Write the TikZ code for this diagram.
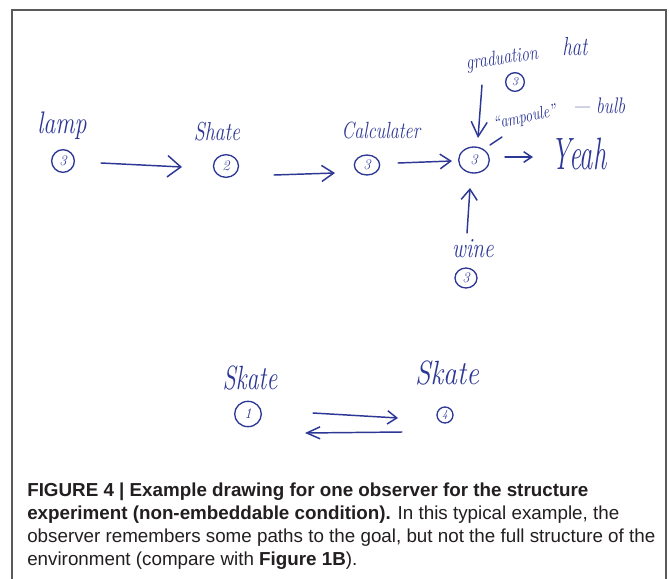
\documentclass[tikz,border=0pt]{standalone}
\usepackage{fontspec}
\newfontfamily\capfont{Liberation Sans}
\usetikzlibrary{arrows.meta,shapes.geometric}
\definecolor{ink}{RGB}{45,55,150}
\definecolor{framec}{RGB}{90,90,90}
\definecolor{captc}{RGB}{35,31,32}
\newcommand\hw[2][1.3]{\scalebox{1}[#1]{#2}}
\tikzset{
  hand/.style={text=ink, inner sep=0pt, font=\fontsize{#1}{#1}\selectfont\itshape},
  circ/.style={draw=ink, ellipse, line width=1pt, inner sep=0pt, text=ink,
               font=\fontsize{11}{11}\selectfont\itshape},
  inkline/.style={draw=ink, line width=1.1pt, line cap=round, line join=round},
  capline/.style={anchor=base west, inner sep=0pt, text=captc,
                  font=\capfont\fontsize{14.1}{16}\selectfont}
}
\begin{document}
\begin{tikzpicture}[x=0.75pt,y=0.75pt]
\useasboundingbox (0,0) rectangle (669,-579);
\fill[white] (0,0) rectangle (669,-579);
\draw[framec, line width=1.5pt] (12,-585) -- (12,-10) -- (666,-10) -- (666,-585);

% top row
\node[hand=18] (lamp) at (62,-126) {\hw{lamp}};
\node[circ, minimum width=17pt, minimum height=17pt] (c3a) at (63,-161) {3};
\node[hand=15] (shate) at (217,-132) {\hw{Shate}};
\node[circ, minimum width=18.75pt, minimum height=17pt] (c2) at (226,-166) {2};
\node[hand=13.5] (calc) at (381,-131) {\hw{Calculater}};
\node[circ, minimum width=19pt, minimum height=15pt] (c3b) at (367,-165) {3};
\node[circ, minimum width=23pt, minimum height=19.5pt] (c3m) at (474,-160) {3};
\node[hand=20] (yeah) at (579,-154) {\hw[1.7]{Yeah}};

% graduation hat
\node[hand=12, rotate=8] (grad) at (502,-59) {\hw{graduation}};
\node[hand=14] (hat) at (575,-47) {\hw[1.4]{hat}};
\node[circ, minimum width=14pt, minimum height=14pt, font=\fontsize{9}{9}\selectfont\itshape] (c3t) at (515,-82) {3};

% ampoule
\node[hand=10.5, rotate=12] (amp) at (525,-118) {\hw{``ampoule''}};
\node[hand=13] (bulb) at (599,-106) {\hw{— bulb}};

% wine
\node[hand=16] (wine) at (473,-249) {\hw{wine}};
\node[circ, minimum width=16.5pt, minimum height=15pt] (c3w) at (466,-278) {3};

% bottom
\node[hand=18] (skl) at (250,-378) {\hw[1.4]{Skate}};
\node[hand=21] (skr) at (447,-373) {\hw[1.2]{Skate}};
\node[circ, minimum width=20pt, minimum height=19pt] (c1) at (248,-414) {1};
\node[circ, minimum width=12pt, minimum height=12pt, font=\fontsize{8}{8}\selectfont\itshape] (c4) at (445,-415) {4};

% arrows top row
\draw[inkline, -{Straight Barb[length=10pt,width=16pt]}]
  ([shift={(38,-2)}]c3a.center) -- ([shift={(-44,-1)}]c2.center);
\draw[inkline, -{Straight Barb[length=9pt,width=12pt]}]
  ([shift={(48,-9)}]c2.center) -- ([shift={(-32,-8)}]c3b.center);
\draw[inkline, -{Straight Barb[length=8pt,width=11pt]}]
  ([shift={(31,2)}]c3b.center) -- ([shift={(-22,-1)}]c3m.center);
\draw[inkline, -{Straight Barb[length=6pt,width=8pt]}]
  ([shift={(31,3)}]c3m.center) -- ([shift={(-46,-3)}]yeah.center);
% down arrow from graduation hat
\draw[inkline, -{Straight Barb[length=11pt,width=12pt]}]
  ([shift={(-33,-3)}]c3t.center) -- ([shift={(4,22)}]c3m.center);
% ampoule tick
\draw[inkline] ([shift={(16,15)}]c3m.center) -- ([shift={(28,23)}]c3m.center);
% up arrow from wine
\draw[inkline, -{Straight Barb[length=8pt,width=12pt]}]
  ([shift={(-6,16)}]wine.center) -- ([shift={(-4,-28)}]c3m.center);

% bottom arrows
\draw[inkline, -{Straight Barb[length=7pt,width=10pt]}]
  ([shift={(65,1)}]c1.center) -- ([shift={(-47,-3)}]c4.center);
\draw[inkline, -{Straight Barb[length=10pt,width=9pt]}]
  ([shift={(-43,-17)}]c4.center) -- ([shift={(57,-19)}]c1.center);

% caption
\node[capline] (cap1) at (27,-496) {\bfseries FIGURE 4 | Example drawing for one observer for the structure};
\node[capline] (cap2) at (27,-519) {\textbf{experiment (non-embeddable condition).} In this typical example, the};
\node[capline] (cap3) at (27,-542) {observer remembers some paths to the goal, but not the full structure of the};
\node[capline] (cap4) at (27,-565) {environment (compare with \textbf{Figure 1B}).};
\end{tikzpicture}
\end{document}
